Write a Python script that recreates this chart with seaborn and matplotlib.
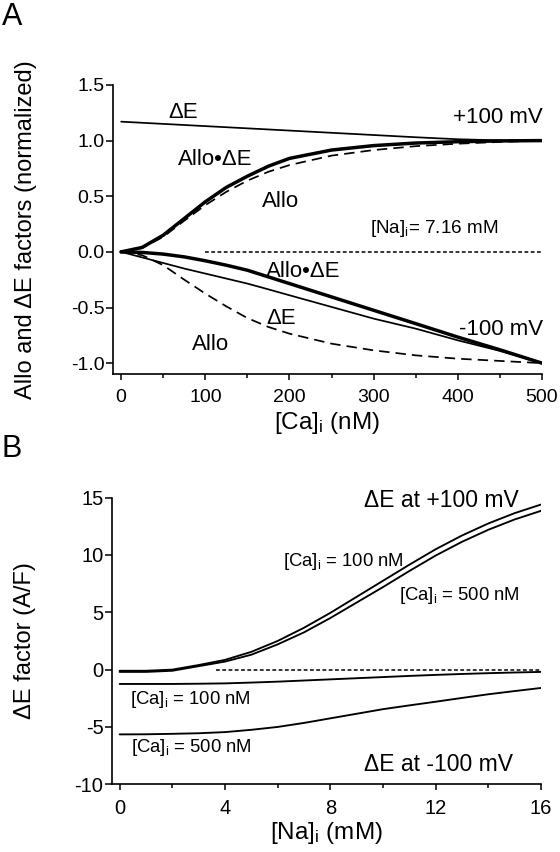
import numpy as np
import pandas as pd
import matplotlib
matplotlib.use("Agg")
import matplotlib.pyplot as plt
import seaborn as sns
from matplotlib.ticker import MultipleLocator

# ---------------- Panel A data ----------------
ca_nM = [0, 25, 50, 75, 100, 125, 150, 175, 200, 250, 300, 350, 400, 450, 500]
# +100 mV
p100_dE      = [1.17, 1.16, 1.15, 1.14, 1.13, 1.12, 1.11, 1.10, 1.09, 1.07, 1.05, 1.03, 1.012, 1.002, 1.0]
p100_alloDE  = [0.0, 0.04, 0.15, 0.30, 0.45, 0.58, 0.68, 0.77, 0.84, 0.915, 0.955, 0.978, 0.99, 0.997, 1.0]
p100_allo    = [0.0, 0.035, 0.135, 0.28, 0.42, 0.54, 0.64, 0.72, 0.78, 0.865, 0.915, 0.95, 0.972, 0.988, 1.0]
# -100 mV
m100_alloDE  = [0.0, -0.005, -0.02, -0.045, -0.08, -0.12, -0.165, -0.225, -0.285, -0.405, -0.525, -0.645, -0.766, -0.88, -1.0]
m100_dE      = [0.0, -0.05, -0.10, -0.15, -0.195, -0.24, -0.285, -0.337, -0.39, -0.495, -0.6, -0.69, -0.795, -0.89, -1.0]
m100_allo    = [0.0, -0.03, -0.12, -0.25, -0.375, -0.49, -0.595, -0.675, -0.735, -0.825, -0.885, -0.93, -0.96, -0.98, -1.0]
zero_A_x = [100, 500]
zero_A_y = [0, 0]
xticks_A = [0, 100, 200, 300, 400, 500]
yticks_A = [-1.0, -0.5, 0.0, 0.5, 1.0, 1.5]

# ---------------- Panel B data ----------------
na_mM = [0, 1, 2, 3, 4, 5, 6, 7, 8, 9, 10, 11, 12, 13, 14, 15, 16]
p100_ca100 = [-0.1, -0.1, 0.0, 0.4, 0.85, 1.55, 2.5, 3.65, 4.95, 6.35, 7.75, 9.15, 10.5, 11.7, 12.75, 13.65, 14.4]
p100_ca500 = [-0.2, -0.2, -0.1, 0.3, 0.7, 1.3, 2.2, 3.25, 4.5, 5.85, 7.2, 8.6, 9.95, 11.15, 12.2, 13.1, 13.85]
m100_ca100 = [-1.25, -1.25, -1.25, -1.23, -1.2, -1.13, -1.05, -0.95, -0.85, -0.75, -0.65, -0.55, -0.46, -0.38, -0.31, -0.25, -0.2]
m100_ca500 = [-5.65, -5.64, -5.6, -5.55, -5.45, -5.25, -5.0, -4.65, -4.25, -3.85, -3.45, -3.12, -2.8, -2.47, -2.15, -1.87, -1.6]
zero_B_x = [3.65, 16]
zero_B_y = [0, 0]
xticks_B = [0, 4, 8, 12, 16]
yticks_B = [-10, -5, 0, 5, 10, 15]

sns.set_theme(style="ticks")
plt.rcParams['font.family'] = ['Liberation Sans', 'DejaVu Sans']
plt.rcParams['mathtext.default'] = 'regular'
plt.rcParams['axes.linewidth'] = 1.2
plt.rcParams['text.color'] = 'black'
plt.rcParams['axes.labelcolor'] = 'black'
plt.rcParams['xtick.color'] = 'black'
plt.rcParams['ytick.color'] = 'black'
plt.rcParams['axes.edgecolor'] = 'black'

fig = plt.figure(figsize=(5.6, 8.52), dpi=100)
axA = fig.add_axes([0.2013, 0.5607, 0.7666, 0.3396])
axB = fig.add_axes([0.1995, 0.0795, 0.7666, 0.3364])

K = 'black'
thick, thin, dashw = 2.5, 1.25, 1.25
dash = (0, (6, 3.5))
dot = (0, (2.5, 1.6))


def line(ax, x, y, lw, ls='-'):
    sns.lineplot(x=x, y=y, ax=ax, color=K, linewidth=lw, linestyle=ls,
                 sort=False, estimator=None, legend=False)


# Panel A
line(axA, ca_nM, p100_dE, thin)
line(axA, ca_nM, p100_allo, dashw, dash)
line(axA, ca_nM, p100_alloDE, thick)
line(axA, ca_nM, m100_dE, thin)
line(axA, ca_nM, m100_allo, dashw, dash)
line(axA, ca_nM, m100_alloDE, thick)
line(axA, zero_A_x, zero_A_y, 1.1, dot)

axA.set_xlim(-10, 500)
axA.set_ylim(-1.1, 1.5)
axA.set_xticks(xticks_A)
axA.set_xticklabels([str(v) for v in xticks_A])
axA.xaxis.set_minor_locator(MultipleLocator(50))
axA.set_yticks(yticks_A)
axA.set_yticklabels([f"{v:.1f}" for v in yticks_A])

# Panel B
line(axB, na_mM, p100_ca100, 1.35)
line(axB, na_mM, p100_ca500, 1.35)
line(axB, na_mM, m100_ca100, 1.35)
line(axB, na_mM, m100_ca500, 1.35)
line(axB, zero_B_x, zero_B_y, 1.1, dot)

axB.set_xlim(-0.3, 16)
axB.set_ylim(-10, 15)
axB.set_xticks(xticks_B)
axB.set_xticklabels([str(v) for v in xticks_B])
axB.xaxis.set_minor_locator(MultipleLocator(2))
axB.set_yticks(yticks_B)
axB.set_yticklabels([str(v) for v in yticks_B])

for ax, fs in ((axA, 14), (axB, 14.5)):
    sns.despine(ax=ax)
    ax.tick_params(axis='x', which='major', direction='out', length=4.5, width=1.1,
                   pad=6, labelsize=fs, colors=K)
    ax.tick_params(axis='x', which='minor', direction='out', length=3, width=1.1, colors=K)
    ax.tick_params(axis='y', which='major', direction='out', length=5, width=1.1,
                   pad=1, labelsize=fs, colors=K)
    for s in ('left', 'bottom'):
        ax.spines[s].set_color(K)
        ax.spines[s].set_linewidth(1.2)

axA.set_xlabel('[Ca]$_i$ (nM)', fontsize=17.5, color=K)
axA.set_ylabel('Allo and \u0394E factors (normalized)', fontsize=17, color=K)
axA.xaxis.set_label_coords(0.5, -0.123)
axA.yaxis.set_label_coords(-0.176, 0.5)

axB.set_xlabel('[Na]$_i$ (mM)', fontsize=17.5, color=K)
axB.set_ylabel('\u0394E factor (A/F)', fontsize=17, color=K)
axB.xaxis.set_label_coords(0.5, -0.1246)
axB.yaxis.set_label_coords(-0.176, 0.5)

fa = 16
axA.text(55.8, 1.20, '\u0394E', fontsize=fa, ha='left', va='baseline')
axA.text(501, 1.157, '+100 mV', fontsize=fa, ha='right', va='baseline')
axA.text(67.7, 0.78, 'Allo\u2022\u0394E', fontsize=fa, ha='left', va='baseline')
axA.text(167.5, 0.405, 'Allo', fontsize=fa, ha='left', va='baseline')
axA.text(295.7, 0.166, '[Na]$_i$= 7.16 mM', fontsize=13.6, ha='left', va='baseline')
axA.text(172, -0.225, 'Allo\u2022\u0394E', fontsize=fa, ha='left', va='baseline')
axA.text(172, -0.645, '\u0394E', fontsize=fa, ha='left', va='baseline')
axA.text(84.3, -0.885, 'Allo', fontsize=fa, ha='left', va='baseline')
axA.text(501, -0.75, '-100 mV', fontsize=fa, ha='right', va='baseline')

fb = 13.3
axB.text(15.14, 14.2, '\u0394E at +100 mV', fontsize=16.5, ha='right', va='baseline')
axB.text(6.21, 9.07, '[Ca]$_i$ = 100 nM', fontsize=fb, ha='left', va='baseline')
axB.text(10.62, 6.1, '[Ca]$_i$ = 500 nM', fontsize=fb, ha='left', va='baseline')
axB.text(0.38, -3.0, '[Ca]$_i$ = 100 nM', fontsize=fb, ha='left', va='baseline')
axB.text(0.42, -7.2, '[Ca]$_i$ = 500 nM', fontsize=fb, ha='left', va='baseline')
axB.text(14.95, -8.87, '\u0394E at -100 mV', fontsize=16.5, ha='right', va='baseline')

fig.text(2 / 560, 1 - 25 / 852, 'A', fontsize=22, ha='left', va='baseline')
fig.text(2 / 560, 1 - 457 / 852, 'B', fontsize=22, ha='left', va='baseline')

fig.savefig('out.png', dpi=100)
